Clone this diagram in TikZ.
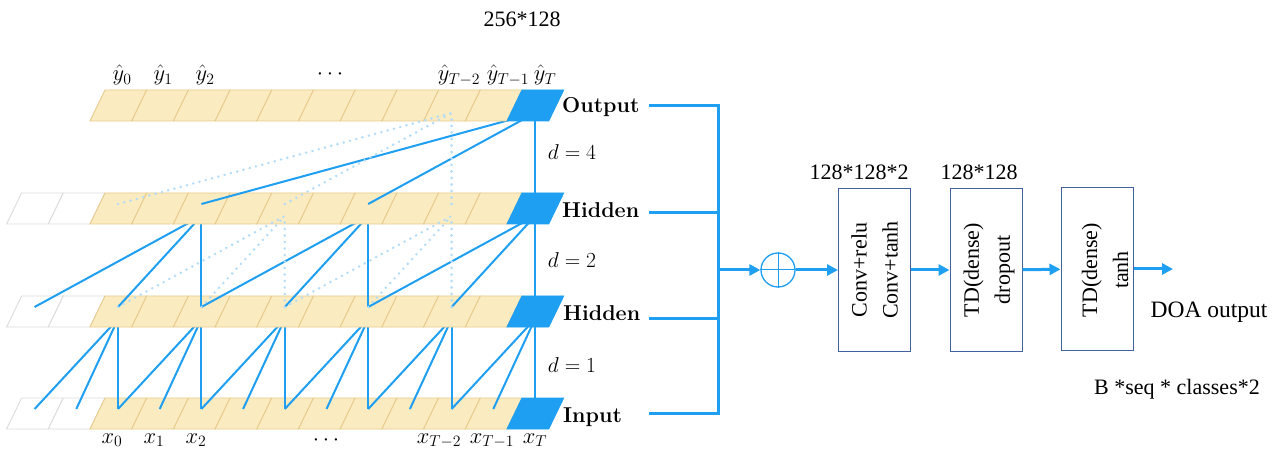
\RequirePackage{fix-cm}
\documentclass[tikz,border=0pt]{standalone}
\usepackage{fontspec}
\newfontfamily\cambria{Liberation Serif}
\usetikzlibrary{arrows.meta}
\definecolor{cellfill}{HTML}{FBEBC1}
\definecolor{celledge}{HTML}{E8CB8C}
\definecolor{tcnblue}{HTML}{1E9FF2}
\definecolor{faint}{HTML}{B3DDF7}
\definecolor{ghost}{HTML}{DCDCDC}
\definecolor{boxedge}{HTML}{41629E}
\tikzset{
  cell/.style={draw=celledge, fill=cellfill, line width=0.9pt},
  pad/.style={draw=ghost, fill=white, line width=0.9pt},
  last/.style={draw=tcnblue, fill=tcnblue, line width=0.9pt},
  link/.style={draw=tcnblue, line width=2pt},
  ghostlink/.style={draw=faint, line width=2.8pt, line cap=round, dash pattern=on 0pt off 6.5pt},
  bus/.style={draw=tcnblue, line width=3pt},
  flow/.style={bus, -{Triangle[length=11pt,width=11pt]}},
  layer/.style={font=\fontsize{21.5}{26}\selectfont\bfseries, anchor=base west, inner sep=0pt},
  lab/.style={font=\fontsize{21.5}{26}\selectfont, anchor=base, inner sep=0pt},
  idx/.style={lab, font=\fontsize{22.5}{27}\selectfont},
  blk/.style={draw=boxedge, line width=1pt, minimum width=72pt, minimum height=162pt, inner sep=0pt},
  inside/.style={rotate=90, align=center, font=\fontsize{22}{31}\selectfont\cambria},
  note/.style={font=\fontsize{22}{26}\selectfont\cambria, anchor=base, inner sep=0pt}
}
\newcommand\cellrow[2]{%
  \foreach \k in {#2,...,12}{%
    \ifnum\k<2 \def\sty{pad}\else\ifnum\k=12 \def\sty{last}\else\def\sty{cell}\fi\fi
    \draw[\sty] (6.6+41.7*\k,#1-31) -- ++(41.7,0) -- ++(15,31) -- ++(-41.7,0) -- cycle;
  }}
\begin{document}
\begin{tikzpicture}[x=1pt,y=1pt]
  \useasboundingbox (0,0) rectangle (1276,450);
  \foreach \r/\T in {0/52,1/154,2/257,3/360}
    \foreach \k in {0,...,12}{
      \coordinate (s\r-\k) at (34.6+41.7*\k,\T-11);
      \coordinate (t\r-\k) at (34.6+41.7*\k,\T-23);
    }
  \cellrow{52}{0}
  \foreach \t in {2,4,...,12}
    \foreach \d in {0,1,2}{
      \pgfmathtruncatemacro\src{\t-\d}
      \draw[link] (s0-\src) -- (t1-\t);
    }
  \cellrow{154}{0}
  \foreach \t in {4,8,12}
    \foreach \d in {0,2,4}{
      \pgfmathtruncatemacro\src{\t-\d}
      \draw[link] (s1-\src) -- (t2-\t);
    }
  \cellrow{257}{0}
  \foreach \d in {0,4,8}{
    \pgfmathtruncatemacro\src{12-\d}
    \draw[link] (s2-\src) -- (t3-12);
  }
  \cellrow{360}{2}
  \foreach \t in {6,10}
    \foreach \d in {0,2,4}{
      \pgfmathtruncatemacro\src{\t-\d}
      \draw[ghostlink] (s1-\src) -- (t2-\t);
    }
  \foreach \d in {0,4,8}{
    \pgfmathtruncatemacro\src{10-\d}
    \draw[ghostlink] (s2-\src) -- (t3-10);
  }

  \node[idx] (y0) at (122,369) {$\hat{y}_0$};
  \node[idx] (y1) at (163,369) {$\hat{y}_1$};
  \node[idx] (y2) at (205,369) {$\hat{y}_2$};
  \node[idx] (ydots) at (330,370) {$\cdots$};
  \node[idx] (yt2) at (459,369) {$\hat{y}_{T-2}$};
  \node[idx] (yt1) at (508,369) {$\hat{y}_{T-1}$};
  \node[idx] (yt) at (545,369) {$\hat{y}_T$};
  \node[idx] (x0) at (112,7) {$x_0$};
  \node[idx] (x1) at (154,7) {$x_1$};
  \node[idx] (x2) at (196,7) {$x_2$};
  \node[idx] (xdots) at (326,5) {$\cdots$};
  \node[idx] (xt2) at (439,7) {$x_{T-2}$};
  \node[idx] (xt1) at (492,7) {$x_{T-1}$};
  \node[idx] (xt) at (535,7) {$x_T$};
  \node[lab, anchor=center] (d4) at (572,298) {$d=4$};
  \node[lab, anchor=center] (d2) at (572,190) {$d=2$};
  \node[lab, anchor=center] (d1) at (572,85) {$d=1$};

  \node[layer] (lout) at (562,337) {Output};
  \node[layer] (lhid1) at (562,232) {Hidden};
  \node[layer] (lhid2) at (563,130) {Hidden};
  \node[layer] (lin) at (563,28) {Input};

  \coordinate (oo) at (649,344);
  \coordinate (ho) at (649,237);
  \coordinate (go) at (649,132);
  \coordinate (io) at (649,37);
  \coordinate (bt) at (718,344);
  \coordinate (bb) at (718,37);
  \coordinate (bm) at (718,180);
  \draw[bus] (oo) -- (bt) -- (bb) -- (io);
  \draw[bus] (ho) -- (ho -| bt);
  \draw[bus] (go) -- (go -| bt);

  \node[draw=tcnblue, circle, line width=1.3pt, minimum size=34pt, inner sep=0pt] (sum) at (778,180) {};
  \draw[tcnblue, line width=1pt] (sum.north) -- (sum.south) (sum.west) -- (sum.east);
  \draw[flow] (bm) -- (sum);

  \node[blk] (b1) at (874.5,180) {};
  \node[blk] (b2) at (986,180) {};
  \node[blk] (b3) at (1097,181) {};
  \node[inside] (t1) at (874.5,180) {Conv+relu\\Conv+tanh};
  \node[inside] (t2) at (989,180) {TD(dense)\\dropout};
  \node[inside] (t3) at (1105,180) {TD(dense)\\tanh};
  \coordinate (doa) at (1173,181);
  \draw[flow] (sum) -- (b1);
  \draw[flow] (b1) -- (b2);
  \draw[flow] (b2) -- (b3);
  \draw[flow] (b3.east) -- (doa);

  \node[note] (n0) at (522,423) {256*128};
  \node[note] (n1) at (859,270) {128*128*2};
  \node[note] (n2) at (979,270) {128*128};
  \node[note, font=\fontsize{23.5}{28}\selectfont\cambria] (n3) at (1209,133) {DOA output};
  \node[note] (n4) at (1177,56) {B *seq * classes*2};
\end{tikzpicture}
\end{document}
